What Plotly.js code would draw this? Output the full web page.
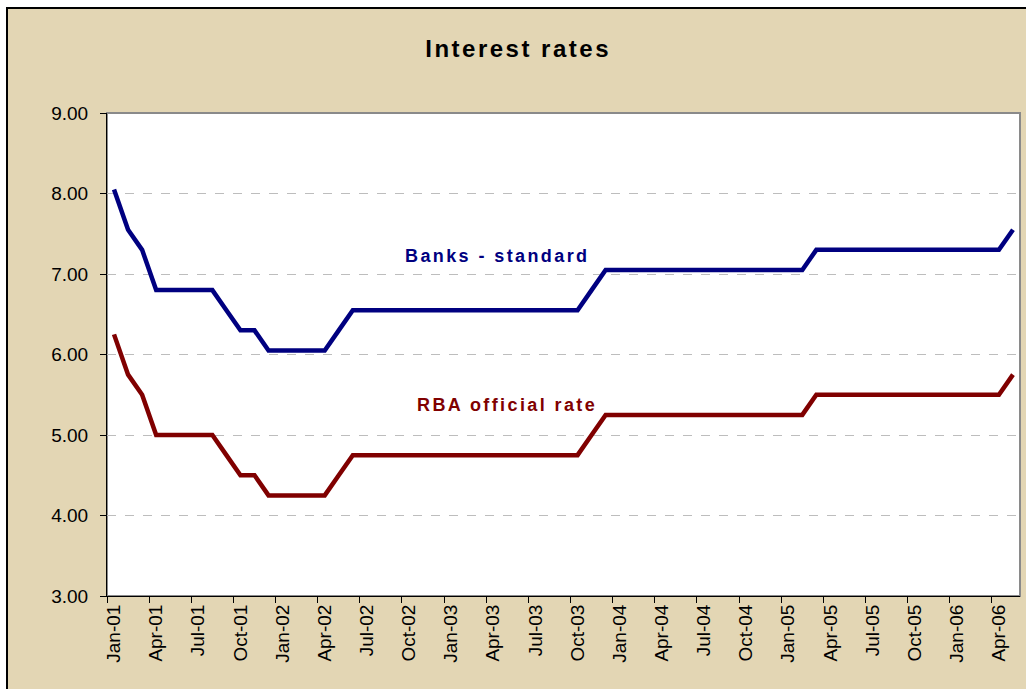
<!DOCTYPE html>
<html>
<head>
<meta charset="utf-8">
<script src="https://cdn.plot.ly/plotly-3.0.1.min.js"></script>
<style>html,body{margin:0;padding:0;background:#fff;}#chart{width:1026px;height:689px;}</style>
</head>
<body>
<div id="chart"></div>
<script>
// Monthly categories Jan-01 .. May-06
var months = [
 'Jan-01','Feb-01','Mar-01','Apr-01','May-01','Jun-01','Jul-01','Aug-01','Sep-01','Oct-01','Nov-01','Dec-01',
 'Jan-02','Feb-02','Mar-02','Apr-02','May-02','Jun-02','Jul-02','Aug-02','Sep-02','Oct-02','Nov-02','Dec-02',
 'Jan-03','Feb-03','Mar-03','Apr-03','May-03','Jun-03','Jul-03','Aug-03','Sep-03','Oct-03','Nov-03','Dec-03',
 'Jan-04','Feb-04','Mar-04','Apr-04','May-04','Jun-04','Jul-04','Aug-04','Sep-04','Oct-04','Nov-04','Dec-04',
 'Jan-05','Feb-05','Mar-05','Apr-05','May-05','Jun-05','Jul-05','Aug-05','Sep-05','Oct-05','Nov-05','Dec-05',
 'Jan-06','Feb-06','Mar-06','Apr-06','May-06'
];

var banksStandard = [
 8.05,7.55,7.30,6.80,6.80,6.80,6.80,6.80,6.55,6.30,6.30,6.05,
 6.05,6.05,6.05,6.05,6.30,6.55,6.55,6.55,6.55,6.55,6.55,6.55,
 6.55,6.55,6.55,6.55,6.55,6.55,6.55,6.55,6.55,6.55,6.80,7.05,
 7.05,7.05,7.05,7.05,7.05,7.05,7.05,7.05,7.05,7.05,7.05,7.05,
 7.05,7.05,7.30,7.30,7.30,7.30,7.30,7.30,7.30,7.30,7.30,7.30,
 7.30,7.30,7.30,7.30,7.55
];

var rbaOfficial = [
 6.25,5.75,5.50,5.00,5.00,5.00,5.00,5.00,4.75,4.50,4.50,4.25,
 4.25,4.25,4.25,4.25,4.50,4.75,4.75,4.75,4.75,4.75,4.75,4.75,
 4.75,4.75,4.75,4.75,4.75,4.75,4.75,4.75,4.75,4.75,5.00,5.25,
 5.25,5.25,5.25,5.25,5.25,5.25,5.25,5.25,5.25,5.25,5.25,5.25,
 5.25,5.25,5.50,5.50,5.50,5.50,5.50,5.50,5.50,5.50,5.50,5.50,
 5.50,5.50,5.50,5.50,5.75
];

var yTicks = [3,4,5,6,7,8,9];

var W = 1026, H = 689;
var M = {l:107, r:6, t:113, b:93};
var pw = W - M.l - M.r, ph = H - M.t - M.b;
function px2x(p){ return (p - M.l) / pw; }
function py2y(p){ return (H - M.b - p) / ph; }

var tan = '#E3D6B4';
var font = 'Arial, "Liberation Sans", sans-serif';

var traces = [
 {x: months, y: banksStandard, type:'scatter', mode:'lines', name:'Banks - standard',
  line:{color:'#000080', width:4.5}, hoverinfo:'x+y'},
 {x: months, y: rbaOfficial, type:'scatter', mode:'lines', name:'RBA official rate',
  line:{color:'#800000', width:4.5}, hoverinfo:'x+y'}
];

var layout = {
 width: W, height: H,
 margin: M,
 paper_bgcolor: '#ffffff',
 plot_bgcolor: 'rgba(0,0,0,0)',
 showlegend: false,
 font: {family: font, color:'#000'},
 title: {
  text: '<span style="letter-spacing:2.5px">Interest rates</span>',
  font: {family: font, size: 24, color:'#000', weight: 'bold'},
  x: 0.505, xref: 'container', xanchor: 'center',
  y: 1 - 49/H, yref: 'container', yanchor: 'middle'
 },
 xaxis: {
  type: 'category',
  range: [-0.5, 64.5],
  tickmode: 'linear', tick0: 0, dtick: 3,
  tickson: 'boundaries',
  ticks: 'outside', ticklen: 6, tickcolor: '#000', tickwidth: 1,
  tickangle: -90,
  tickfont: {family: font, size: 19, color:'#000'},
  showgrid: false, zeroline: false,
  showline: true, linecolor: '#000', linewidth: 1,
  fixedrange: true
 },
 yaxis: {
  range: [3, 9],
  tickmode: 'array', tickvals: yTicks,
  tickformat: '.2f',
  ticks: 'outside', ticklen: 6, tickcolor: '#000', tickwidth: 1,
  ticklabelstandoff: 8,
  tickfont: {family: font, size: 19, color:'#000'},
  showgrid: true, gridcolor: '#BDBDBD', griddash: 'dash', gridwidth: 1,
  zeroline: false,
  showline: true, linecolor: '#000', linewidth: 1,
  fixedrange: true
 },
 shapes: [
  {type:'rect', layer:'below', xref:'paper', yref:'paper',
   x0: px2x(7), x1: px2x(W + 20), y0: py2y(H + 20), y1: py2y(8),
   fillcolor: tan, line:{color:'#000', width:2}},
  {type:'rect', layer:'below', xref:'paper', yref:'paper',
   x0: 0, x1: 1, y0: 0, y1: 1,
   fillcolor: '#ffffff', line:{color:'#8a8a8a', width:2}}
 ],
 annotations: [
  {x: 27.3, y: 7.22, xref:'x', yref:'y', showarrow:false,
   text: '<span style="letter-spacing:2.4px">Banks - standard</span>',
   font:{family: font, size: 18, color:'#000080', weight:'bold'}},
  {x: 28.0, y: 5.37, xref:'x', yref:'y', showarrow:false,
   text: '<span style="letter-spacing:2.4px">RBA official rate</span>',
   font:{family: font, size: 18, color:'#800000', weight:'bold'}}
 ]
};

Plotly.newPlot('chart', traces, layout, {displayModeBar:false, staticPlot:true});
</script>
</body>
</html>
